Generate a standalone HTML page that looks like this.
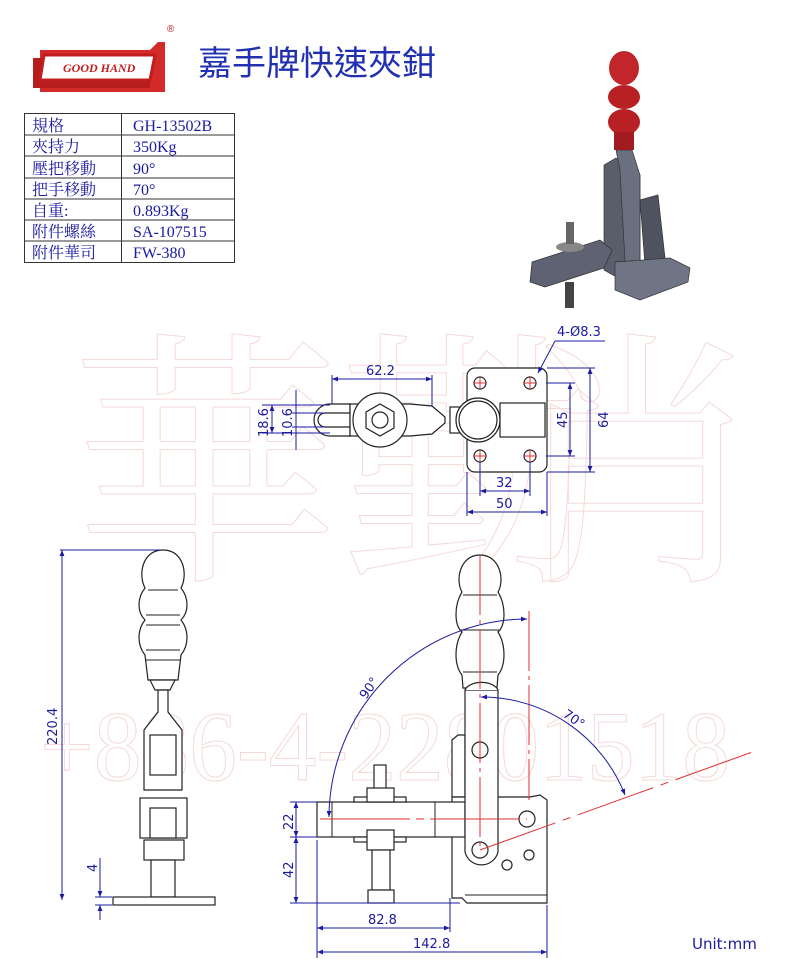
<!DOCTYPE html>
<html><head><meta charset="utf-8"><style>
html,body{margin:0;padding:0;background:#fff;}
svg{display:block;}
.dim{stroke:#1a1aa0;stroke-width:1;fill:none;}
.dt{fill:#1a1aa0;font-family:"DejaVu Sans","Liberation Sans",sans-serif;font-size:13px;}
.ol{stroke:#222;stroke-width:1.2;fill:#fff;}
.rl{stroke:#e03030;stroke-width:1;fill:none;}
.tb{font-family:"Liberation Serif","Noto Serif CJK SC",serif;font-size:16px;fill:#1a1aa0;}
</style></head><body>
<svg width="800" height="972" viewBox="0 0 800 972" xmlns="http://www.w3.org/2000/svg">
<defs>
<marker id="a" viewBox="0 0 10 10" refX="10" refY="5" markerWidth="8" markerHeight="6" orient="auto-start-reverse"><path d="M0,1 L10,5 L0,9z" fill="#1a1aa0"/></marker>
</defs>
<!-- watermark -->
<g fill="none" stroke="#f6d8d8" stroke-width="1" font-family="Liberation Serif,'Noto Serif CJK SC',serif">
<text x="70" y="560" font-size="270">華勤</text>
<text x="500" y="560" font-size="270">肖</text>
<text x="40" y="780" font-size="100" textLength="690" lengthAdjust="spacingAndGlyphs">+886-4-22801518</text>
</g>
<!-- logo -->
<g>
<path d="M40,50 L150,50 L158,42 L165,42 L165,92 L40,92 Z" fill="#d42a2a"/>
<path d="M33,58 L150,58 L150,88 L33,88 Z" fill="#b81d1d"/>
<path d="M44,55 L155,55 L150,80 L40,80 Z" fill="#fff" stroke="#c01e1e" stroke-width="3"/>
<text x="63" y="72" font-family="Liberation Serif,serif" font-style="italic" font-weight="bold" font-size="12" fill="#c01e1e">GOOD HAND</text>
<text x="167" y="32" font-family="Liberation Sans,sans-serif" font-size="10" fill="#c01e1e">®</text>
</g>
<text x="198" y="75" font-family="'Liberation Sans','Noto Sans CJK TC',sans-serif" font-size="34" fill="#2030b0">嘉手牌快速夾鉗</text>
<!-- table -->
<g stroke="#333" stroke-width="1" fill="none">
<rect x="24.5" y="113.5" width="210" height="149"/>
<line x1="121.5" y1="113" x2="121.5" y2="263"/>
<line x1="24" y1="135" x2="235" y2="135"/><line x1="24" y1="156" x2="235" y2="156"/>
<line x1="24" y1="178" x2="235" y2="178"/><line x1="24" y1="199" x2="235" y2="199"/>
<line x1="24" y1="220" x2="235" y2="220"/><line x1="24" y1="241" x2="235" y2="241"/>
</g>
<g class="tb">
<text x="32" y="131">規格</text><text x="133" y="131">GH-13502B</text>
<text x="32" y="152">夾持力</text><text x="133" y="152">350Kg</text>
<text x="32" y="174">壓把移動</text><text x="133" y="174">90°</text>
<text x="32" y="195">把手移動</text><text x="133" y="195">70°</text>
<text x="32" y="216">自重:</text><text x="133" y="216">0.893Kg</text>
<text x="32" y="237">附件螺絲</text><text x="133" y="237">SA-107515</text>
<text x="32" y="258">附件華司</text><text x="133" y="258">FW-380</text>
</g>
<!-- photo -->
<g>
<path d="M604,165 L616,158 L640,175 L640,275 L622,280 L604,270 Z" fill="#5a5e6c" stroke="#333" stroke-width="0.7"/>
<path d="M616,150 L632,150 L640,175 L640,265 L625,262 L620,170 Z" fill="#6b7080" stroke="#333" stroke-width="0.7"/>
<path d="M640,200 L658,195 L665,258 L645,265 Z" fill="#4f5360" stroke="#333" stroke-width="0.7"/>
<path d="M615,262 L670,258 L690,268 L688,282 L640,300 L615,290 Z" fill="#707586" stroke="#333" stroke-width="0.7"/>
<path d="M532,262 L600,240 L612,250 L604,268 L545,287 L530,282 Z" fill="#5e6272" stroke="#333" stroke-width="0.7"/>
<ellipse cx="570" cy="247" rx="14" ry="5" fill="#888"/>
<rect x="566" y="222" width="8" height="22" fill="#666"/>
<rect x="565" y="282" width="9" height="26" fill="#444"/>
<ellipse cx="624" cy="68" rx="15" ry="17" fill="#c0262a"/>
<ellipse cx="624" cy="97" rx="16" ry="12" fill="#b82024"/>
<ellipse cx="624" cy="122" rx="16" ry="13" fill="#b82024"/>
<rect x="614" y="132" width="20" height="18" fill="#a01c20"/>
</g>
<!-- top view -->
<g>
<path d="M330,404 L350,404 L350,436 L330,436 A16,16 0 0 1 330,404Z" class="ol"/>
<path d="M325,413 L350,413 L350,427 L325,427 A7,7 0 0 1 325,413Z" class="ol"/>
<path d="M350,404 L410,404 L432,406 L445,417 L445,423 L432,434 L410,436 L350,436Z" class="ol"/>
<circle cx="380" cy="420" r="27" class="ol"/>
<polygon points="380,404 394,412 394,428 380,436 366,428 366,412" class="ol"/>
<circle cx="380" cy="420" r="8" class="ol"/>
<rect x="467" y="368" width="80" height="104" rx="8" class="ol"/>
<rect x="500" y="403" width="45" height="34" class="ol"/>
<rect x="450" y="407" width="12" height="26" class="ol"/>
<circle cx="478" cy="420" r="22" class="ol"/>
<circle cx="478" cy="420" r="19" class="ol"/>
<g class="ol"><circle cx="480" cy="383" r="6"/><circle cx="530" cy="383" r="6"/><circle cx="480" cy="456" r="6"/><circle cx="530" cy="456" r="6"/></g>
<g class="rl"><path d="M474,383h12M480,377v12M524,383h12M530,377v12M474,456h12M480,450v12M524,456h12M530,450v12"/></g>
</g>
<g class="dim">
<line x1="332" y1="379" x2="432" y2="379" marker-start="url(#a)" marker-end="url(#a)"/>
<line x1="332" y1="375" x2="332" y2="404"/><line x1="432" y1="375" x2="432" y2="406"/>
<line x1="480" y1="462" x2="480" y2="496"/><line x1="530" y1="462" x2="530" y2="496"/>
<line x1="480" y1="491" x2="530" y2="491" marker-start="url(#a)" marker-end="url(#a)"/>
<line x1="467" y1="472" x2="467" y2="516"/><line x1="547" y1="472" x2="547" y2="516"/>
<line x1="467" y1="512" x2="547" y2="512" marker-start="url(#a)" marker-end="url(#a)"/>
<line x1="546" y1="383" x2="575" y2="383"/><line x1="546" y1="456" x2="575" y2="456"/>
<line x1="570" y1="383" x2="570" y2="456" marker-start="url(#a)" marker-end="url(#a)"/>
<line x1="547" y1="368" x2="595" y2="368"/><line x1="547" y1="472" x2="595" y2="472"/>
<line x1="590" y1="368" x2="590" y2="472" marker-start="url(#a)" marker-end="url(#a)"/>
<line x1="555" y1="341" x2="605" y2="341"/><line x1="555" y1="341" x2="538" y2="373" marker-end="url(#a)"/>
<line x1="272" y1="405" x2="272" y2="433" marker-start="url(#a)" marker-end="url(#a)"/>
<line x1="262" y1="405" x2="330" y2="405"/><line x1="262" y1="433" x2="330" y2="433"/>
<line x1="296" y1="390" x2="296" y2="450"/>
<line x1="292" y1="413" x2="325" y2="413"/><line x1="292" y1="427" x2="325" y2="427"/>
</g>
<g class="dt">
<text x="366" y="375">62.2</text><text x="496" y="487">32</text><text x="496" y="508">50</text>
<text x="557" y="336">4-Ø8.3</text>
<text transform="translate(567,428) rotate(-90)">45</text>
<text transform="translate(608,428) rotate(-90)">64</text>
<text transform="translate(268,437) rotate(-90)">18.6</text>
<text transform="translate(292,437) rotate(-90)">10.6</text>
</g>
<!-- side view left -->
<g>
<path d="M163,550 C142,550 138,575 145,588 C137,598 137,612 145,620 C137,630 137,645 145,655 L148,680 L178,680 L181,655 C189,645 189,630 181,620 C189,612 189,598 181,588 C188,575 184,550 163,550Z" class="ol"/>
<g stroke="#222" fill="none"><line x1="148" y1="590" x2="178" y2="590"/><line x1="146" y1="615" x2="180" y2="615"/><line x1="146" y1="625" x2="180" y2="625"/><line x1="146" y1="650" x2="180" y2="650"/><line x1="146" y1="660" x2="180" y2="660"/></g>
<path d="M150,680 L175,680 L170,690 L155,690Z" class="ol"/>
<path d="M158,690 L168,690 L168,712 L182,730 L182,790 L144,790 L144,730 L158,712Z" class="ol"/>
<rect x="150" y="735" width="26" height="40" class="ol"/>
<rect x="140" y="798" width="47" height="40" class="ol"/>
<rect x="150" y="808" width="26" height="30" class="ol"/>
<rect x="144" y="840" width="40" height="20" class="ol"/>
<rect x="151" y="860" width="24" height="37" class="ol"/>
<rect x="113" y="897" width="102" height="8" class="ol"/>
</g>
<g class="dim">
<line x1="60" y1="550" x2="160" y2="550"/>
<line x1="62" y1="550" x2="62" y2="900" marker-start="url(#a)" marker-end="url(#a)"/>
<line x1="100" y1="858" x2="100" y2="897" marker-end="url(#a)"/>
<line x1="100" y1="920" x2="100" y2="905" marker-end="url(#a)"/>
<line x1="95" y1="897" x2="112" y2="897"/><line x1="95" y1="905" x2="112" y2="905"/>
</g>
<g class="dt"><text transform="translate(57,745) rotate(-90)">220.4</text><text transform="translate(97,872) rotate(-90)">4</text></g>
<!-- front view -->
<g>
<path d="M480,555 C460,555 455,580 462,592 C454,605 454,625 462,632 C454,645 454,665 462,675 L463,688 L497,688 L498,675 C506,665 506,645 498,632 C506,625 506,605 498,592 C505,580 500,555 480,555Z" class="ol"/>
<g stroke="#222" fill="none"><line x1="463" y1="595" x2="497" y2="595"/><line x1="461" y1="630" x2="499" y2="630"/><line x1="463" y1="672" x2="497" y2="672"/></g>
<path d="M452,740 L458,735 L465,735 L465,797 L452,797Z" class="ol"/>
<path d="M497,797 L530,797 L540,795 L547,800 L547,903 L467,903 L462,898 L452,898 L452,797Z" class="ol"/>
<line x1="465" y1="895" x2="547" y2="895" stroke="#222"/>
<rect x="317" y="802" width="148" height="35" class="ol"/>
<line x1="332" y1="802" x2="332" y2="837" stroke="#222"/><line x1="435" y1="802" x2="435" y2="837" stroke="#222"/>
<rect x="374" y="765" width="12" height="25" class="ol"/>
<rect x="354" y="797" width="52" height="5" class="ol"/>
<rect x="367" y="788" width="27" height="14" class="ol"/>
<rect x="354" y="837" width="52" height="5" class="ol"/>
<rect x="367" y="830" width="27" height="20" class="ol"/>
<rect x="372" y="850" width="18" height="40" class="ol"/>
<rect x="368" y="890" width="26" height="13" class="ol"/>
<path d="M465,690 L498,690 L498,852 A17,17 0 0 1 465,852Z" class="ol"/>
<path d="M465,690 A17,10 0 0 1 498,690" class="ol"/>
<circle cx="480" cy="750" r="8" class="ol"/><circle cx="527" cy="819" r="8" class="ol"/><circle cx="480" cy="850" r="8" class="ol"/>
<circle cx="529" cy="855" r="5" class="ol"/><circle cx="507" cy="865" r="5" class="ol"/>
</g>
<g class="rl">
<line x1="480" y1="555" x2="480" y2="850" stroke-dasharray="60,5,4,5"/>
<line x1="529" y1="611" x2="529" y2="800" stroke-dasharray="60,5,4,5"/>
<line x1="320" y1="819" x2="527" y2="819" stroke-dasharray="90,6,8,6"/>
<line x1="480" y1="850" x2="758" y2="750" stroke-dasharray="80,8,8,8"/>
</g>
<g class="dim">
<path d="M329,817 A199,199 0 0 1 527,619" marker-start="url(#a)" marker-end="url(#a)"/>
<path d="M481,697 A154,154 0 0 1 625,795" marker-start="url(#a)" marker-end="url(#a)"/>
<line x1="290" y1="802" x2="317" y2="802"/><line x1="290" y1="837" x2="317" y2="837"/><line x1="290" y1="903" x2="460" y2="903"/>
<line x1="296" y1="802" x2="296" y2="837" marker-start="url(#a)" marker-end="url(#a)"/>
<line x1="296" y1="837" x2="296" y2="903" marker-start="url(#a)" marker-end="url(#a)"/>
<line x1="317" y1="840" x2="317" y2="958"/><line x1="450" y1="898" x2="450" y2="932"/><line x1="547" y1="905" x2="547" y2="958"/>
<line x1="317" y1="928" x2="450" y2="928" marker-start="url(#a)" marker-end="url(#a)"/>
<line x1="317" y1="952" x2="547" y2="952" marker-start="url(#a)" marker-end="url(#a)"/>
</g>
<g class="dt">
<text transform="translate(366,700) rotate(-55)">90°</text>
<text transform="translate(562,716) rotate(35)">70°</text>
<text transform="translate(293,830) rotate(-90)">22</text>
<text transform="translate(293,878) rotate(-90)">42</text>
<text x="368" y="924">82.8</text><text x="413" y="948">142.8</text>
<text x="692" y="949" font-size="15">Unit:mm</text>
</g>
</svg>
</body></html>
